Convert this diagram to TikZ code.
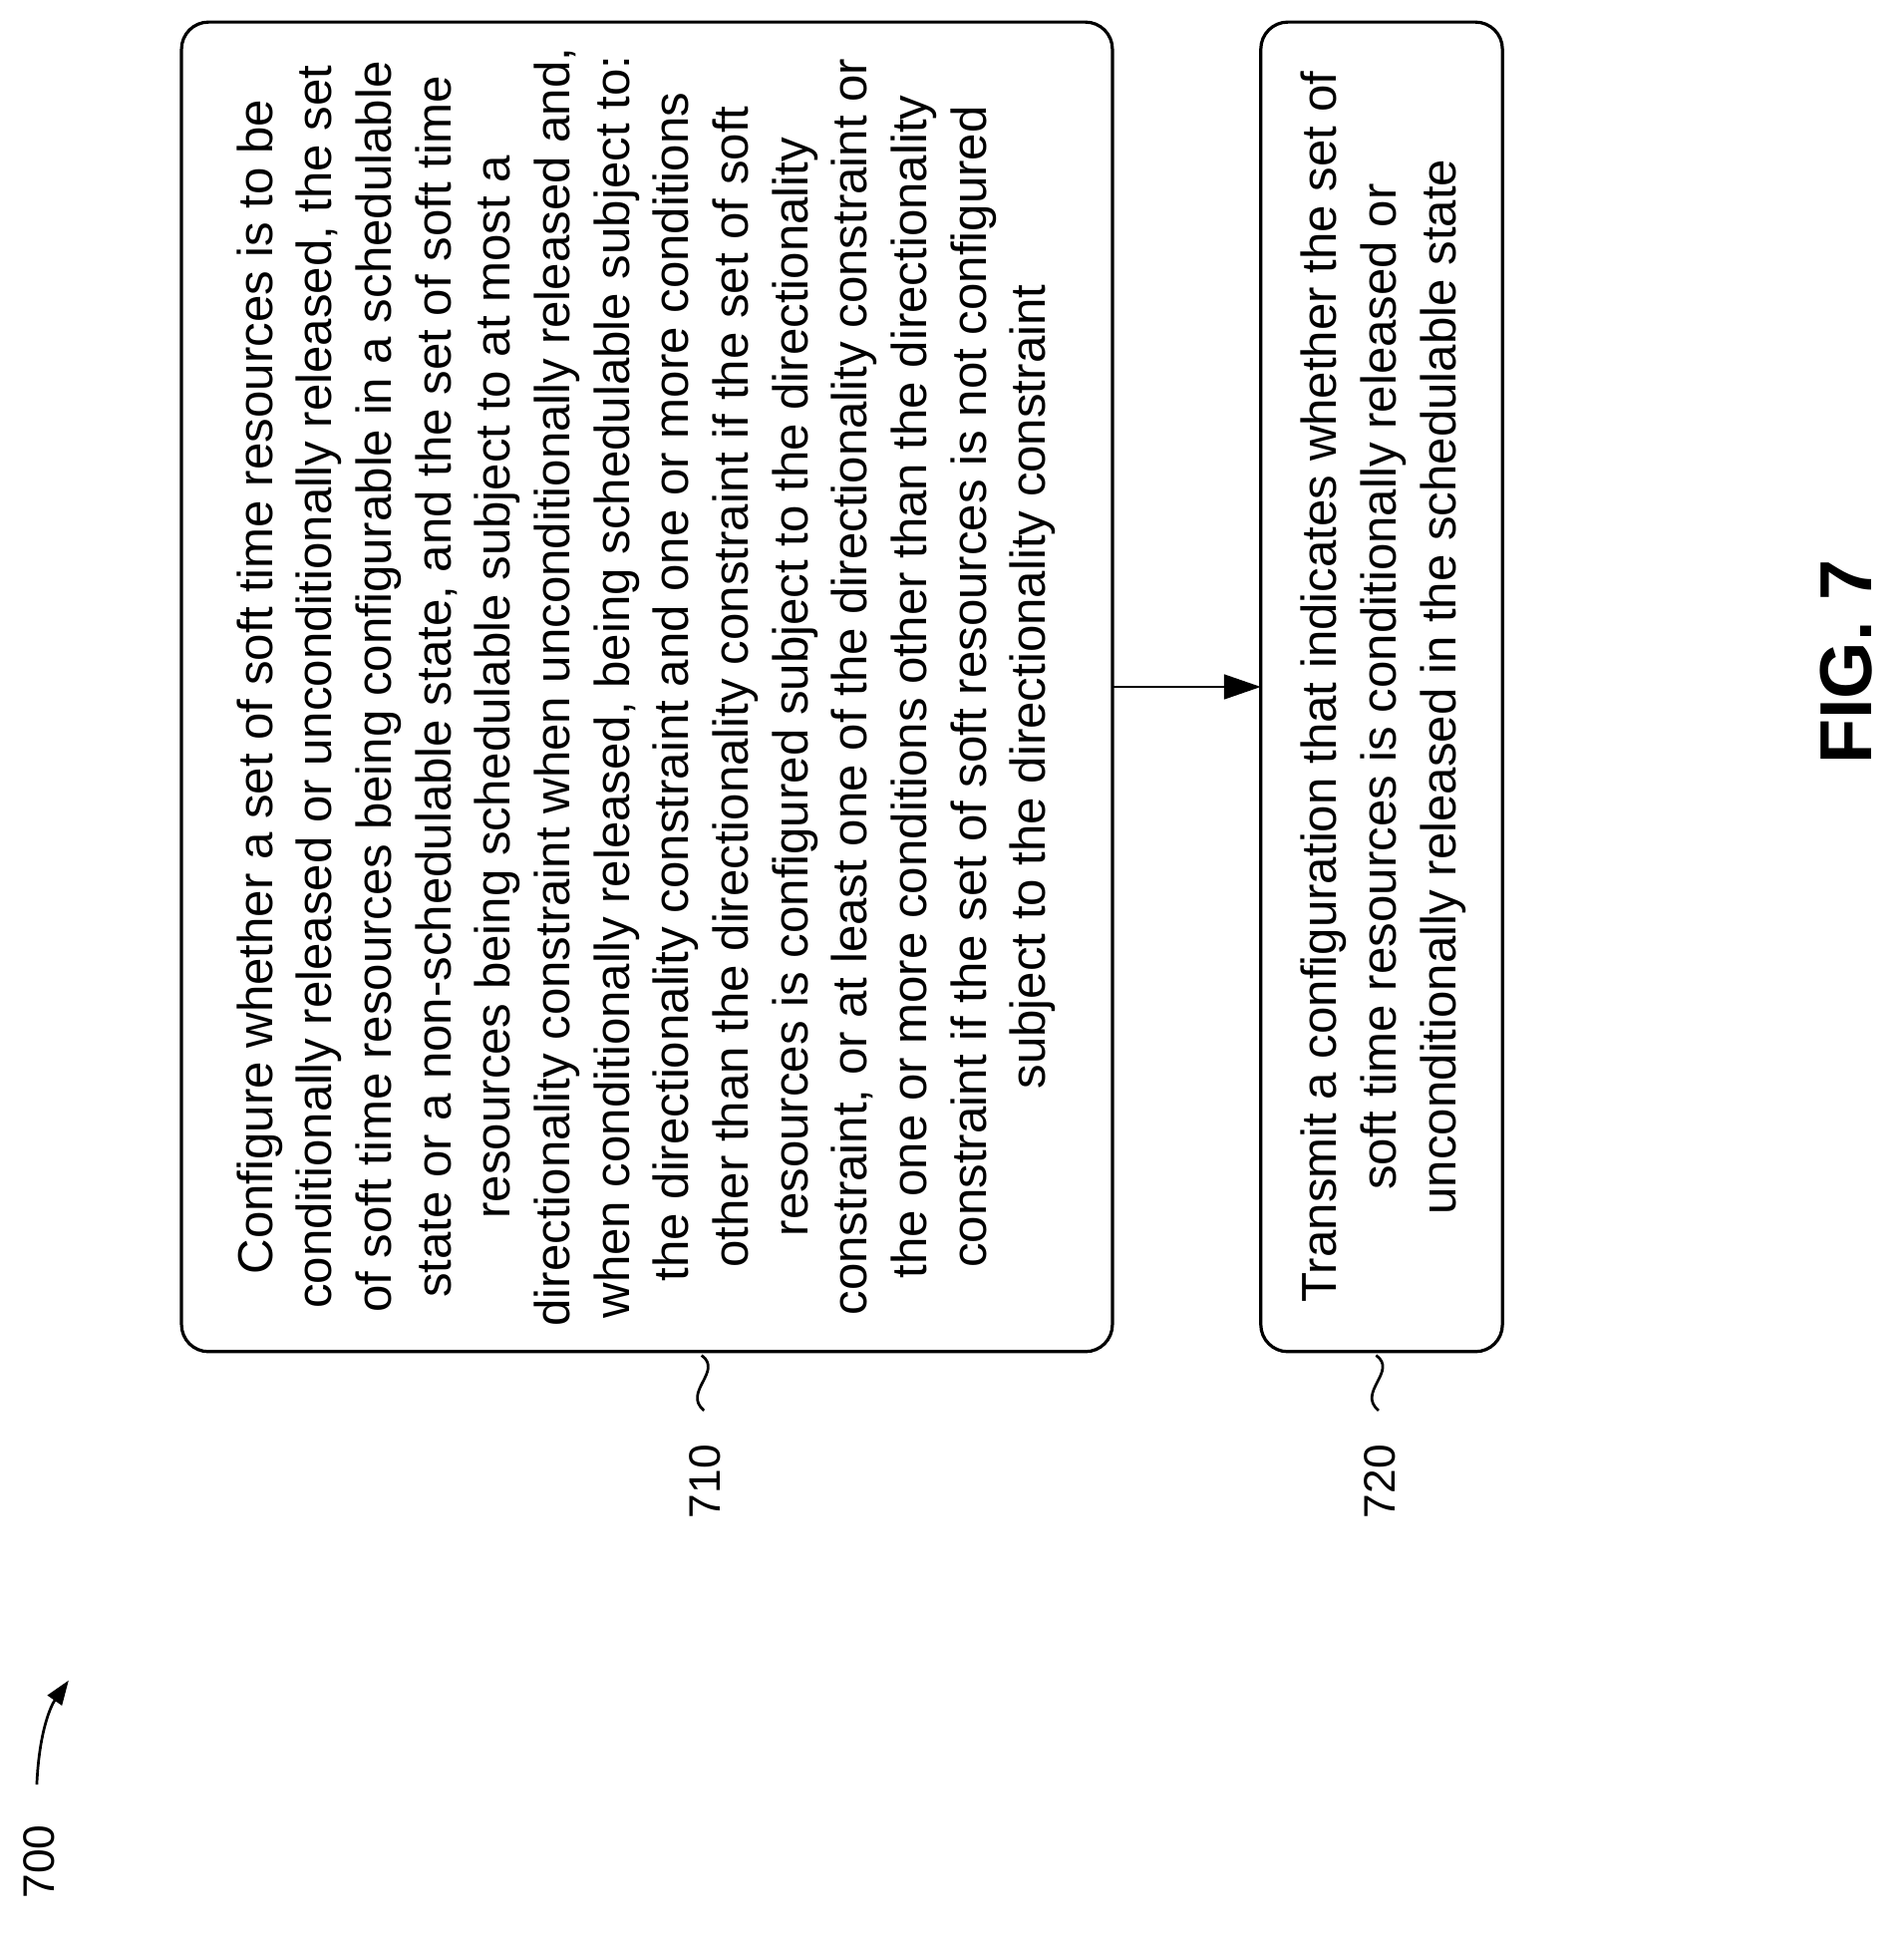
\documentclass[tikz,border=0pt]{standalone}
\usepackage{fontspec}
\setmainfont{Liberation Sans}
\usetikzlibrary{arrows.meta}
\begin{document}
\begin{tikzpicture}[x=1pt,y=-1pt,
  boxst/.style={draw,line width=2.6pt,rounded corners=22pt},
  txt/.style={rotate=90,align=center,font=\fontsize{40}{48.5}\selectfont},
  lbl/.style={rotate=90,font=\fontsize{36}{40}\selectfont}]
\useasboundingbox (0,0) rectangle (1552,1576);
\draw[boxst] (148,18) rectangle (907,1102);
\draw[boxst] (1028,18) rectangle (1225,1102);
\node[txt] (t710) at (527,560) {Configure whether a set of soft time resources is to be\\ conditionally released or unconditionally released, the set\\ of soft time resources being configurable in a schedulable\\ state or a non-schedulable state, and the set of soft time\\ resources being schedulable subject to at most a\\ directionality constraint when unconditionally released and,\\ when conditionally released, being schedulable subject to:\\ the directionality constraint and one or more conditions\\ other than the directionality constraint if the set of soft\\ resources is configured subject to the directionality\\ constraint, or at least one of the directionality constraint or\\ the one or more conditions other than the directionality\\ constraint if the set of soft resources is not configured\\ subject to the directionality constraint};
\node[txt] (t720) at (1128,560) {Transmit a configuration that indicates whether the set of\\ soft time resources is conditionally released or\\ unconditionally released in the schedulable state};
\coordinate (a1) at (907,560);
\coordinate (a2) at (1028,560);
\draw[line width=2.4pt,-{Triangle[length=30pt,width=20pt]}] (a1) -- (a2);
\node[lbl] (l710) at (575,1208) {710};
\node[lbl] (l720) at (1125,1208) {720};
\node[lbl] (l700) at (32,1518) {700};
\draw[line width=2.2pt] (572,1105) .. controls (590,1118) and (556,1135) .. (574,1150);
\draw[line width=2.2pt] (1122,1105) .. controls (1140,1118) and (1106,1135) .. (1124,1150);
\coordinate (c1) at (30,1455);
\coordinate (c2) at (56,1370);
\draw[line width=2.2pt,-{Triangle[length=20pt,width=14pt]}] (c1) .. controls (32,1410) and (42,1390) .. (c2);
\node[rotate=90,font=\bfseries\fontsize{60}{62}\selectfont] (fig) at (1505,540) {FIG. 7};
\end{tikzpicture}
\end{document}
